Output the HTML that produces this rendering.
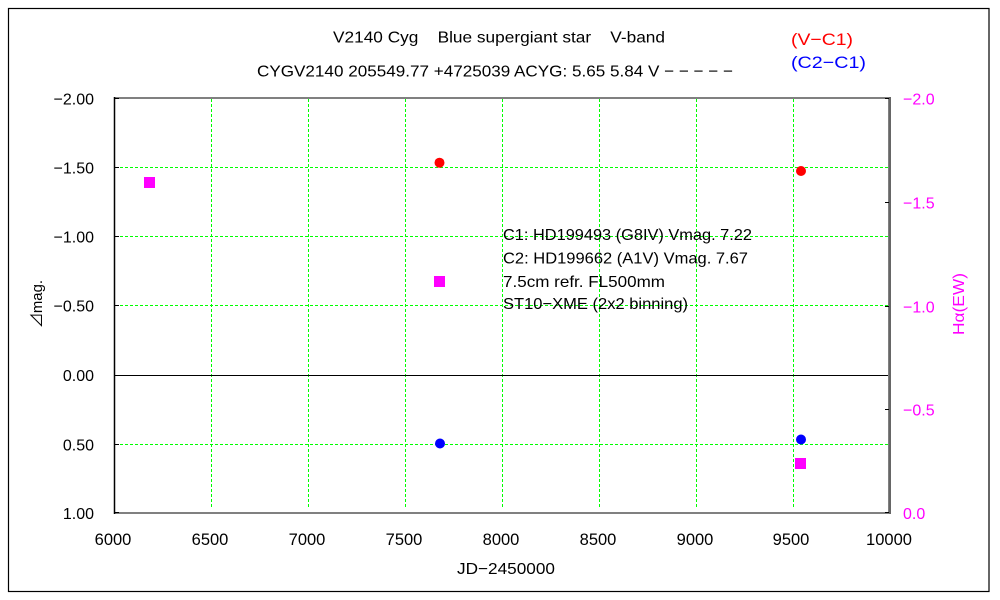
<!DOCTYPE html>
<html>
<head>
<meta charset="utf-8">
<style>
html,body{margin:0;padding:0;background:#fff;}
svg{display:block;}
text{font-family:"Liberation Sans","IPAGothic",sans-serif;}
</style>
</head>
<body>
<svg width="1000" height="600" viewBox="0 0 1000 600" xmlns="http://www.w3.org/2000/svg">
<rect x="0" y="0" width="1000" height="600" fill="#fff"/>
<rect x="8.5" y="8.5" width="980.5" height="583" fill="none" stroke="#000" stroke-width="1.2"/>

<!-- grid -->
<g stroke="#00ff00" stroke-width="1" stroke-dasharray="3,2" fill="none" shape-rendering="crispEdges">
<line x1="115" y1="167.5" x2="888" y2="167.5"/>
<line x1="115" y1="236.5" x2="888" y2="236.5"/>
<line x1="115" y1="305.5" x2="888" y2="305.5"/>
<line x1="115" y1="444.5" x2="888" y2="444.5"/>
<line x1="211.5" y1="99" x2="211.5" y2="509"/>
<line x1="308.5" y1="99" x2="308.5" y2="509"/>
<line x1="405.5" y1="99" x2="405.5" y2="509"/>
<line x1="502.5" y1="99" x2="502.5" y2="509"/>
<line x1="599.5" y1="99" x2="599.5" y2="509"/>
<line x1="696.5" y1="99" x2="696.5" y2="509"/>
<line x1="793.5" y1="99" x2="793.5" y2="509"/>
</g>
<!-- zero line -->
<line x1="115" y1="375.5" x2="889" y2="375.5" stroke="#000" stroke-width="1" shape-rendering="crispEdges"/>

<!-- axes -->
<line x1="114" y1="98" x2="889" y2="98" stroke="#808080" stroke-width="2" shape-rendering="crispEdges"/>
<line x1="114" y1="513" x2="889" y2="513" stroke="#808080" stroke-width="2" shape-rendering="crispEdges"/>
<line x1="114.5" y1="97" x2="114.5" y2="514" stroke="#000" stroke-width="1.5"/>
<line x1="888.5" y1="97" x2="888.5" y2="514" stroke="#808080" stroke-width="1" shape-rendering="crispEdges"/>
<line x1="890" y1="97" x2="890" y2="514" stroke="#000" stroke-width="1.2"/>

<!-- ticks -->
<g stroke="#000" stroke-width="1" shape-rendering="crispEdges">
<line x1="114" y1="98.5" x2="119" y2="98.5"/>
<line x1="114" y1="167.5" x2="119" y2="167.5"/>
<line x1="114" y1="236.5" x2="119" y2="236.5"/>
<line x1="114" y1="305.5" x2="119" y2="305.5"/>
<line x1="114" y1="444.5" x2="119" y2="444.5"/>
<line x1="114" y1="512.5" x2="119" y2="512.5"/>
<line x1="885" y1="98.5" x2="889" y2="98.5"/>
<line x1="885" y1="202.5" x2="889" y2="202.5"/>
<line x1="885" y1="306.5" x2="889" y2="306.5"/>
<line x1="885" y1="409.5" x2="889" y2="409.5"/>
<line x1="885" y1="512.5" x2="889" y2="512.5"/>
</g>

<!-- left tick labels -->
<g font-size="16" fill="#000" text-anchor="end">
<text x="94" y="104.5">−2.00</text>
<text x="94" y="173.5">−1.50</text>
<text x="94" y="242.5">−1.00</text>
<text x="94" y="311.5">−0.50</text>
<text x="94" y="381">0.00</text>
<text x="94" y="450.5">0.50</text>
<text x="94" y="519">1.00</text>
</g>

<!-- right tick labels -->
<g font-size="16" fill="#ff00ff" text-anchor="start">
<text x="903" y="104.5">−2.0</text>
<text x="903" y="208.5">−1.5</text>
<text x="903" y="312.5">−1.0</text>
<text x="903" y="415.5">−0.5</text>
<text x="903" y="519">0.0</text>
</g>

<!-- x tick labels -->
<g font-size="16.5" fill="#000" text-anchor="middle">
<text x="113" y="545">6000</text>
<text x="210" y="545">6500</text>
<text x="307" y="545">7000</text>
<text x="404" y="545">7500</text>
<text x="501" y="545">8000</text>
<text x="598" y="545">8500</text>
<text x="695" y="545">9000</text>
<text x="791" y="545">9500</text>
<text x="889" y="545">10000</text>
</g>
<text x="506" y="574" font-size="16" text-anchor="middle" textLength="98" lengthAdjust="spacingAndGlyphs">JD−2450000</text>

<!-- axis titles -->
<text transform="translate(42,304) rotate(-90)" font-size="15" text-anchor="middle" textLength="48" lengthAdjust="spacingAndGlyphs">⊿mag.</text>
<text transform="translate(964,304) rotate(-90)" font-size="16" fill="#ff00ff" text-anchor="middle" textLength="62" lengthAdjust="spacingAndGlyphs">Hα(EW)</text>

<!-- titles -->
<text x="333" y="42.5" font-size="16" textLength="332" lengthAdjust="spacingAndGlyphs" xml:space="preserve">V2140 Cyg    Blue supergiant star    V-band</text>
<text x="257" y="76.5" font-size="16" textLength="476" lengthAdjust="spacingAndGlyphs">CYGV2140 205549.77 +4725039 ACYG: 5.65 5.84 V − − − − −</text>

<!-- legend -->
<text x="791" y="45" font-size="17" fill="#ff0000" textLength="62" lengthAdjust="spacingAndGlyphs">(V−C1)</text>
<text x="791" y="68" font-size="17" fill="#0000ff" textLength="75" lengthAdjust="spacingAndGlyphs">(C2−C1)</text>

<!-- annotation -->
<g font-size="16" fill="#000">
<text x="503" y="240" textLength="249" lengthAdjust="spacingAndGlyphs">C1: HD199493 (G8IV) Vmag. 7.22</text>
<text x="503" y="263.5" textLength="245" lengthAdjust="spacingAndGlyphs">C2: HD199662 (A1V) Vmag. 7.67</text>
<text x="503" y="287" textLength="162" lengthAdjust="spacingAndGlyphs">7.5cm refr. FL500mm</text>
<text x="503" y="309" textLength="185" lengthAdjust="spacingAndGlyphs">ST10−XME (2x2 binning)</text>
</g>

<!-- data -->
<circle cx="439.5" cy="162.7" r="5" fill="#ff0000"/>
<circle cx="801" cy="171" r="5" fill="#ff0000"/>
<circle cx="440" cy="443.5" r="5" fill="#0000ff"/>
<circle cx="801" cy="439.5" r="5" fill="#0000ff"/>
<rect x="144" y="177" width="11" height="11" fill="#ff00ff"/>
<rect x="434" y="276" width="11" height="11" fill="#ff00ff"/>
<rect x="795" y="458" width="11" height="11" fill="#ff00ff"/>
</svg>
</body>
</html>
